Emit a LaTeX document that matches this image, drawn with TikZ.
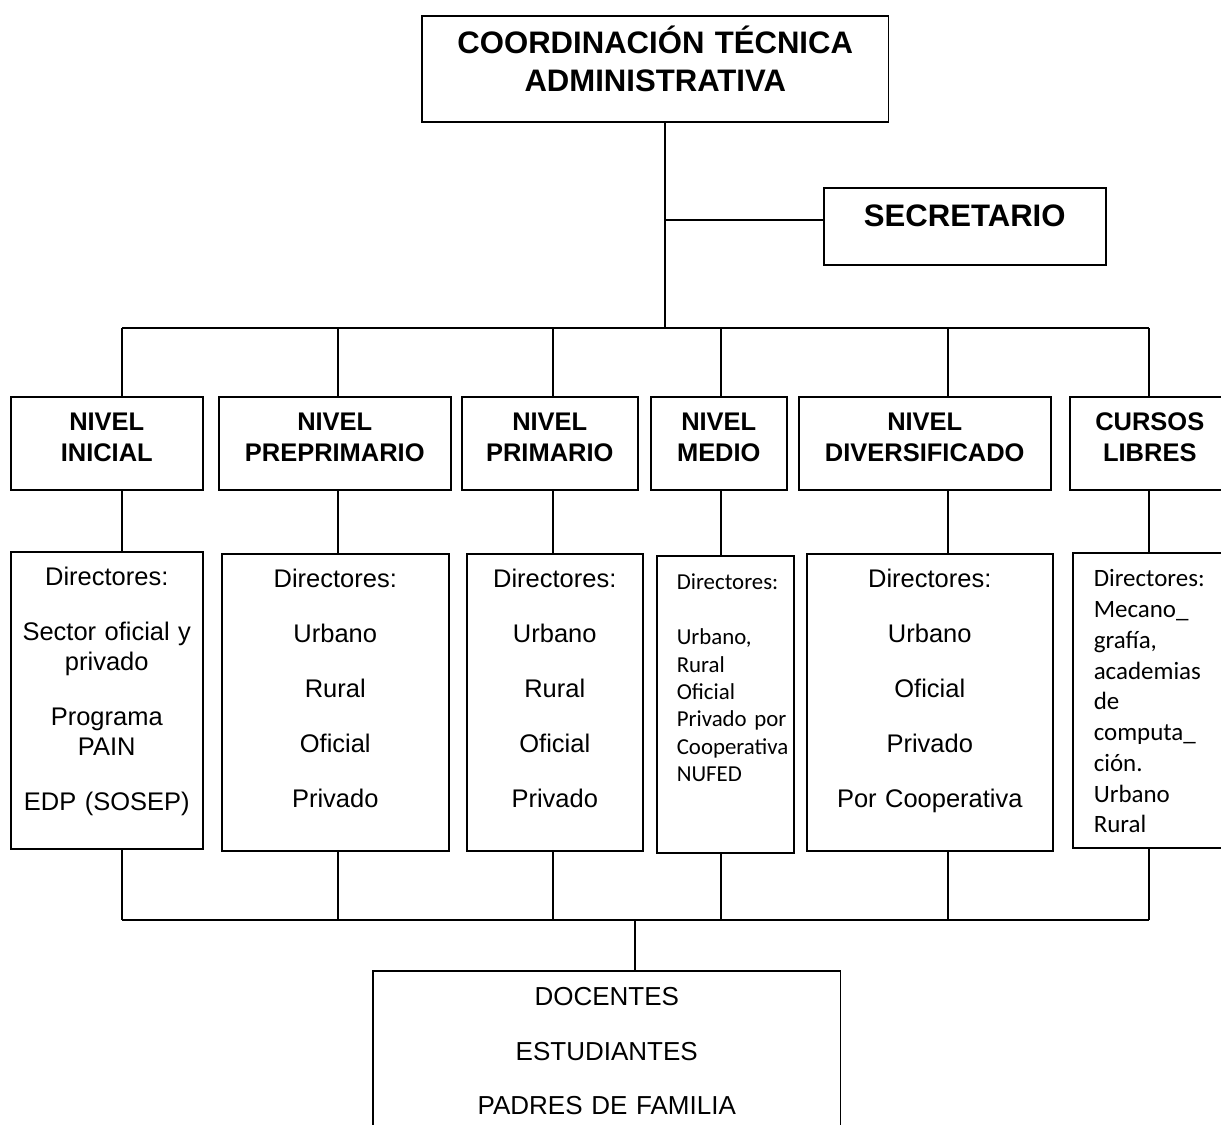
\documentclass[tikz,border=0pt]{standalone}
\usepackage{fontspec}
\setmainfont{Liberation Sans}
\newfontfamily\calibfont{Carlito}

\begin{document}
\begin{tikzpicture}[
    x=0.02cm, y=-0.02cm,
    box/.style={
        draw, line width=0.9pt, inner sep=0pt,
        anchor=north west, align=center
    },
    headbox/.style={box, font=\bfseries\fontsize{17.7}{21.6}\selectfont},
    levelbox/.style={box, text height=0.68cm, text depth=1.18cm,
        font=\bfseries\fontsize{14.5}{17.6}\selectfont},
    dirbox/.style={box, text height=0.68cm, text depth=5.26cm,
        font=\fontsize{14.5}{17.1}\selectfont},
    notebox/.style={box, align=left, inner xsep=0.4cm, text height=0.68cm},
    link/.style={line width=0.9pt}
]
  \useasboundingbox (0,0) rectangle (1221,1125);

  % Top of the chart
  \node[headbox, text width=9.34cm, text height=0.76cm, text depth=1.36cm] (coord) at (421,15)
      {COORDINACIÓN TÉCNICA\\ADMINISTRATIVA};
  \node[headbox, text width=5.64cm, text height=0.78cm, text depth=0.76cm] (secre) at (823,187)
      {SECRETARIO};

  % Levels
  \node[levelbox, text width=3.84cm] (lvinicial) at (10,396) {NIVEL\\INICIAL};
  \node[levelbox, text width=4.64cm] (lvprepri) at (218,396) {NIVEL\\PREPRIMARIO};
  \node[levelbox, text width=3.52cm] (lvprimario) at (461,396) {NIVEL\\PRIMARIO};
  \node[levelbox, text width=2.72cm] (lvmedio) at (650,396) {NIVEL\\MEDIO};
  \node[levelbox, text width=5.04cm] (lvdiver) at (798,396) {NIVEL\\DIVERSIFICADO};
  \node[levelbox, text width=3.2cm] (lvcursos) at (1069,396) {CURSOS\\LIBRES};

  % Directors of each level
  \node[dirbox, text width=3.84cm] (dirinicial) at (10,551)
      {Directores:\\[14.2pt]Sector oficial y\\privado\\[14.2pt]Programa\\PAIN\\[14.2pt]EDP (SOSEP)};
  \node[dirbox, text width=4.54cm] (dirprepri) at (221,553)
      {Directores:\\[14.2pt]Urbano\\[14.2pt]Rural\\[14.2pt]Oficial\\[14.2pt]Privado};
  \node[dirbox, text width=3.52cm] (dirprimario) at (466,553)
      {Directores:\\[14.2pt]Urbano\\[14.2pt]Rural\\[14.2pt]Oficial\\[14.2pt]Privado};
  \node[notebox, text width=1.94cm, text depth=5.26cm,
        font=\calibfont\fontsize{13}{15.6}\selectfont] (dirmedio) at (656,555)
      {Directores:\\[15.6pt]Urbano,\\Rural\\Oficial\\Privado~por\\Cooperativa\\NUFED};
  \node[dirbox, text width=4.92cm] (dirdiver) at (806,553)
      {Directores:\\[14.2pt]Urbano\\[14.2pt]Oficial\\[14.2pt]Privado\\[14.2pt]Por Cooperativa};
  \node[notebox, inner xsep=0.42cm, text width=2.3cm, text depth=5.22cm,
        font=\calibfont\fontsize{14.2}{17.5}\selectfont] (dircursos) at (1072,552)
      {Directores:\\Mecano\_\\grafía,\\academias\\de\\computa\_\\ción.\\Urbano\\Rural};

  % Base of the chart
  \node[box, text width=9.36cm, text height=0.7cm, text depth=2.9cm,
        font=\fontsize{14.8}{31}\selectfont] (base) at (372,970)
      {DOCENTES\\ESTUDIANTES\\PADRES DE FAMILIA};

  % Connectors
  \coordinate (hub) at (665,328);
  \coordinate (secjoin) at ([yshift=0.13cm]secre.west);
  \coordinate (busl) at (122,328);
  \coordinate (busr) at (1149,328);
  \coordinate (basel) at (122,920);
  \coordinate (baser) at (1149,920);
  \coordinate (joint) at (635,920);

  \draw[link] (coord.south -| hub) -- (hub);
  \draw[link] (hub |- secjoin) -- (secjoin);
  \draw[link] (busl) -- (busr);
  \foreach \lv/\dir/\x in {lvinicial/dirinicial/122, lvprepri/dirprepri/338,
      lvprimario/dirprimario/553, lvmedio/dirmedio/721,
      lvdiver/dirdiver/948, lvcursos/dircursos/1149}{
    \draw[link] (\x,328) -- (\x,328 |- \lv.north);
    \draw[link] (\x,328 |- \lv.south) -- (\x,328 |- \dir.north);
    \draw[link] (\x,328 |- \dir.south) -- (\x,920);
  }
  \draw[link] (basel) -- (baser);
  \draw[link] (joint) -- (base.north -| joint);

\end{tikzpicture}
\end{document}
